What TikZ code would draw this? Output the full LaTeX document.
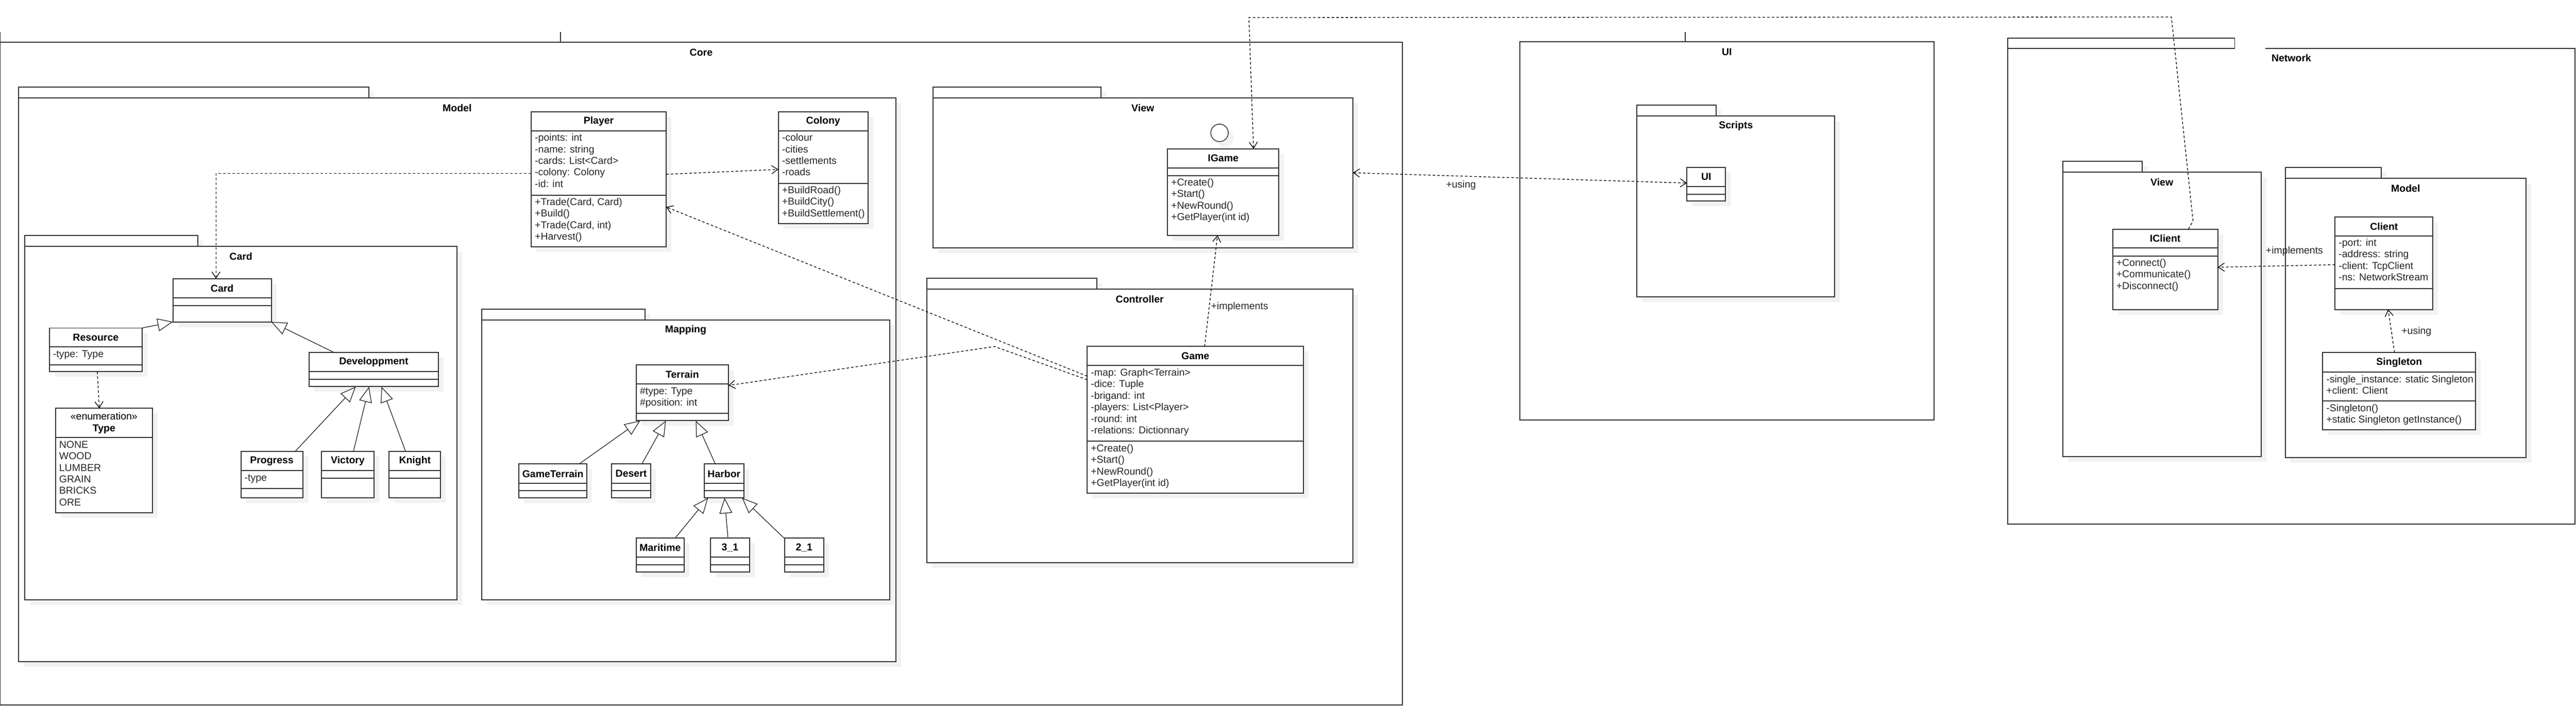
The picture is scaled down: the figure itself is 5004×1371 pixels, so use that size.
\documentclass[tikz,border=0pt]{standalone}
\usepackage{fontspec}
\setmainfont{Liberation Sans}
\usetikzlibrary{arrows.meta, positioning, shadows}

\newcommand{\umlfont}{\fontsize{19.5}{22.5}\selectfont}
% one compartment of a class: width, height, lines
\newcommand{\partbox}[3]{\parbox[c][#2pt][t]{\dimexpr#1pt-14pt\relax}{\vspace*{4pt}\begin{tabular}[t]{@{}l@{}}#3\end{tabular}}}
% name, top left, width, heights of the three parts, title, attributes, methods
\newcommand{\umlclass}[9]{%
  \node[classhead, minimum width=#3pt, minimum height=#4pt, anchor=north west] (#1) at (#2) {#7};
  \node[classpart, below=0pt of #1] (#1-a) {\partbox{#3}{#5}{#8}};
  \node[classpart, below=0pt of #1-a] (#1-m) {\partbox{#3}{#6}{#9}};
}
% name, top left of body, width, height, tab width, label
\newcommand{\umlpackage}[6]{%
  \node[pkgtab, minimum width=#5pt, anchor=south west] (#1-tab) at (#2) {};
  \node[pkgbody, minimum width=#3pt, minimum height=#4pt, anchor=north west] (#1) at (#2) {};
  \node[pkglabel] (#1-label) at ([yshift=-20pt]#1.north) {#6};
}

\begin{document}
\begin{tikzpicture}[
    x=1pt, y=-1pt,
    >={Straight Barb[length=12pt, width=16pt]},
    shadowed/.style={drop shadow={shadow xshift=10pt, shadow yshift=-10pt, fill=black!5, opacity=1}},
    classhead/.style={draw=black!80, line width=2pt, fill=white, font=\umlfont\bfseries, align=center, inner sep=0pt, outer sep=0pt, shadowed},
    classpart/.style={draw=black!80, line width=2pt, fill=white, font=\umlfont, text=black!85, inner xsep=7pt, inner ysep=0pt, outer sep=0pt, shadowed},
    pkgtab/.style={draw=black!80, line width=2pt, fill=white, minimum height=21pt, inner sep=0pt, outer sep=0pt, shadowed},
    pkgbody/.style={draw=black!80, line width=2pt, fill=white, inner sep=0pt, outer sep=0pt, shadowed},
    pkgouter/.style={draw=black!80, line width=2pt, fill=white, inner sep=0pt, outer sep=0pt},
    pkgedge/.style={draw=black!80, line width=2pt},
    pkglabel/.style={font=\umlfont\bfseries, inner sep=0pt},
    ball/.style={circle, draw=black!80, line width=1.5pt, fill=white, minimum size=34pt, inner sep=0pt, outer sep=0pt, shadowed},
    dep/.style={draw=black, line width=1.3pt, dash pattern=on 5pt off 4pt, ->},
    gen/.style={draw=black!85, line width=1.3pt, -{Triangle[length=30pt, width=25pt, fill=white]}},
    lbl/.style={font=\umlfont, text=black!85, inner sep=0pt}
]
\useasboundingbox (0,0) rectangle (5004,1371);

% Core
\node[pkgouter, minimum width=2724pt, minimum height=1287pt, anchor=north west] (core) at (0,82) {};
\draw[pkgedge] (core.north west) -- ++(0,-20);
\draw[pkgedge] ([xshift=1089pt]core.north west) -- ++(0,-20);
\node[pkglabel] (core-label) at ([yshift=-20pt]core.north) {Core};

\umlpackage{model}{36,190}{1704}{1095}{681}{Model}
\umlpackage{cardpkg}{48,478}{840}{687}{336}{Card}

\umlclass{Card}{336,541}{191}{37}{15}{32}{Card}{}{}
\umlclass{Resource}{96,637}{180}{37}{35}{13}{Resource}{-type: Type}{}
\umlclass{Dev}{600,685}{252}{37}{15}{14}{Developpment}{}{}
\umlclass{Progress}{468,877}{120}{37}{35}{18}{Progress}{-type}{}
\umlclass{Victory}{624,877}{103}{37}{15}{38}{Victory}{}{}
\umlclass{Knight}{756,877}{100}{37}{15}{38}{Knight}{}{}
\node[classhead, minimum width=188pt, minimum height=57pt, anchor=north west] (Type) at (108,793) {{\mdseries «enumeration»}\\Type};
\node[classpart, below=0pt of Type] (Type-a) {\partbox{188}{146}{NONE\\WOOD\\LUMBER\\GRAIN\\BRICKS\\ORE}};

\umlclass{Player}{1032,217}{262}{37}{125}{100}{Player}{-points: int\\-name: string\\-cards: List<Card>\\-colony: Colony\\-id: int}{+Trade(Card, Card)\\+Build()\\+Trade(Card, int)\\+Harvest()}
\umlclass{Colony}{1512,217}{174}{37}{102}{78}{Colony}{-colour\\-cities\\-settlements\\-roads}{+BuildRoad()\\+BuildCity()\\+BuildSettlement()}

\umlpackage{mapping}{936,621}{792}{544}{317}{Mapping}
\umlclass{Terrain}{1236,709}{179}{37}{57}{14}{Terrain}{\#type: Type\\\#position: int}{}
\umlclass{GameTerrain}{1008,901}{132}{38}{14}{14}{GameTerrain}{}{}
\umlclass{Desert}{1188,901}{76}{38}{14}{14}{Desert}{}{}
\umlclass{Harbor}{1368,901}{77}{38}{14}{14}{Harbor}{}{}
\umlclass{Maritime}{1236,1045}{93}{37}{15}{14}{Maritime}{}{}
\umlclass{h31}{1380,1045}{76}{37}{15}{14}{3\_1}{}{}
\umlclass{h21}{1524,1045}{76}{37}{15}{14}{2\_1}{}{}

\umlpackage{view}{1812,190}{816}{291}{327}{View}
\node[ball] (igame-ball) at (2369,258) {};
\umlclass{IGame}{2268,289}{216}{37}{15}{116}{IGame}{}{+Create()\\+Start()\\+NewRound()\\+GetPlayer(int id)}

\umlpackage{controller}{1800,561}{828}{532}{331}{Controller}
\umlclass{Game}{2112,673}{420}{37}{147}{101}{Game}{-map: Graph<Terrain>\\-dice: Tuple\\-brigand: int\\-players: List<Player>\\-round: int\\-relations: Dictionnary}{+Create()\\+Start()\\+NewRound()\\+GetPlayer(int id)}

% UI
\node[pkgouter, minimum width=805pt, minimum height=735pt, anchor=north west] (uipkg) at (2952,81) {};
\draw[pkgedge] ([xshift=322pt]uipkg.north west) -- ++(0,-19);
\node[pkglabel] (uipkg-label) at ([yshift=-20pt]uipkg.north) {UI};
\umlpackage{scripts}{3180,225}{384}{351}{154}{Scripts}
\umlclass{UI}{3277,325}{75}{37}{15}{13}{UI}{}{}

% Network
\node[pkgouter, draw=none, minimum width=1102pt, minimum height=924pt, anchor=north west] (network) at (3900,94) {};
\draw[pkgedge, line width=1.5pt] ([xshift=500pt]network.north west) -| (network.south east) -| (network.north west);
\node[pkgouter, line width=1.5pt, minimum width=441pt, minimum height=20pt, anchor=south west] (network-tab) at (3900,94) {};
\node[pkglabel] (network-label) at ([yshift=-19pt]network.north) {Network};

\umlpackage{netview}{4007,334}{385}{553}{154}{View}
\umlclass{IClient}{4104,445}{204}{36}{16}{104}{IClient}{}{+Connect()\\+Communicate()\\+Disconnect()}
\umlpackage{netmodel}{4439,346}{468}{543}{187}{Model}
\umlclass{Client}{4536,421}{190}{37}{102}{41}{Client}{-port: int\\-address: string\\-client: TcpClient\\-ns: NetworkStream}{}
\umlclass{Singleton}{4512,685}{297}{38}{56}{56}{Singleton}{-single\_instance: static Singleton\\+client: Client}{-Singleton()\\+static Singleton getInstance()}

% inheritance
\draw[gen] (Resource.north east) -- (Card-m.south west);
\draw[gen] ([xshift=-76pt]Dev.north) -- (Card-m.south east);
\draw[gen] ([xshift=45pt]Progress.north) -- ([xshift=-35pt]Dev-m.south);
\draw[gen] ([xshift=11pt]Victory.north) -- ([xshift=-9pt]Dev-m.south);
\draw[gen] ([xshift=-18pt]Knight.north) -- ([xshift=15pt]Dev-m.south);
\draw[gen] ([xshift=51pt]GameTerrain.north) -- ([xshift=-82pt]Terrain-m.south);
\draw[gen] ([xshift=21pt]Desert.north) -- ([xshift=-32pt]Terrain-m.south);
\draw[gen] ([xshift=-17pt]Harbor.north) -- ([xshift=26pt]Terrain-m.south);
\draw[gen] ([xshift=29pt]Maritime.north) -- ([xshift=-31pt]Harbor-m.south);
\draw[gen] ([xshift=-4pt]h31.north) -- ([xshift=1pt]Harbor-m.south);
\draw[gen] ([xshift=-39pt]h21.north) -- ([xshift=35pt]Harbor-m.south);

% dependencies
\draw[dep] ([yshift=-20pt]Player-a.west) -| ([xshift=-12pt]Card.north);
\draw[dep] ([yshift=-22pt]Player-a.east) -- ([yshift=-24pt]Colony-a.west);
\draw[dep] ([xshift=3pt]Resource-m.south) -- ([xshift=-9pt]Type.north);
\draw[dep] ([yshift=53pt]Game-a.west) -- ([yshift=27pt]Player-m.east);
\coordinate (game-bend) at (1932,673);
\draw[dep] ([yshift=46pt]Game-a.west) -- (game-bend) -- ([yshift=26pt]Terrain-a.east);
\draw[dep] ([xshift=18pt]Game.north) -- ([xshift=-11pt]IGame-m.south);
\node[lbl] (impl-game) at (2408,596) {+implements};
\draw[dep, <->] (view.east) -- ([yshift=-12pt]UI.west);
\node[lbl] (using-ui) at (2838,360) {+using};
\coordinate (iclient-k1) at (4260,429);
\coordinate (iclient-k2) at (4218,33);
\coordinate (iclient-k3) at (2426,34);
\draw[dep] ([xshift=45pt]IClient.north) -- (iclient-k1) -- (iclient-k2) -- (iclient-k3) -- ([xshift=59pt]IGame.north);
\draw[dep] ([yshift=-5pt]Client-a.west) -- ([yshift=30pt]IClient-m.east);
\node[lbl] (impl-client) at (4457,488) {+implements};
\draw[dep] ([xshift=-9pt]Singleton.north) -- ([xshift=8pt]Client-m.south);
\node[lbl] (using-client) at (4694,644) {+using};
\end{tikzpicture}
\end{document}
